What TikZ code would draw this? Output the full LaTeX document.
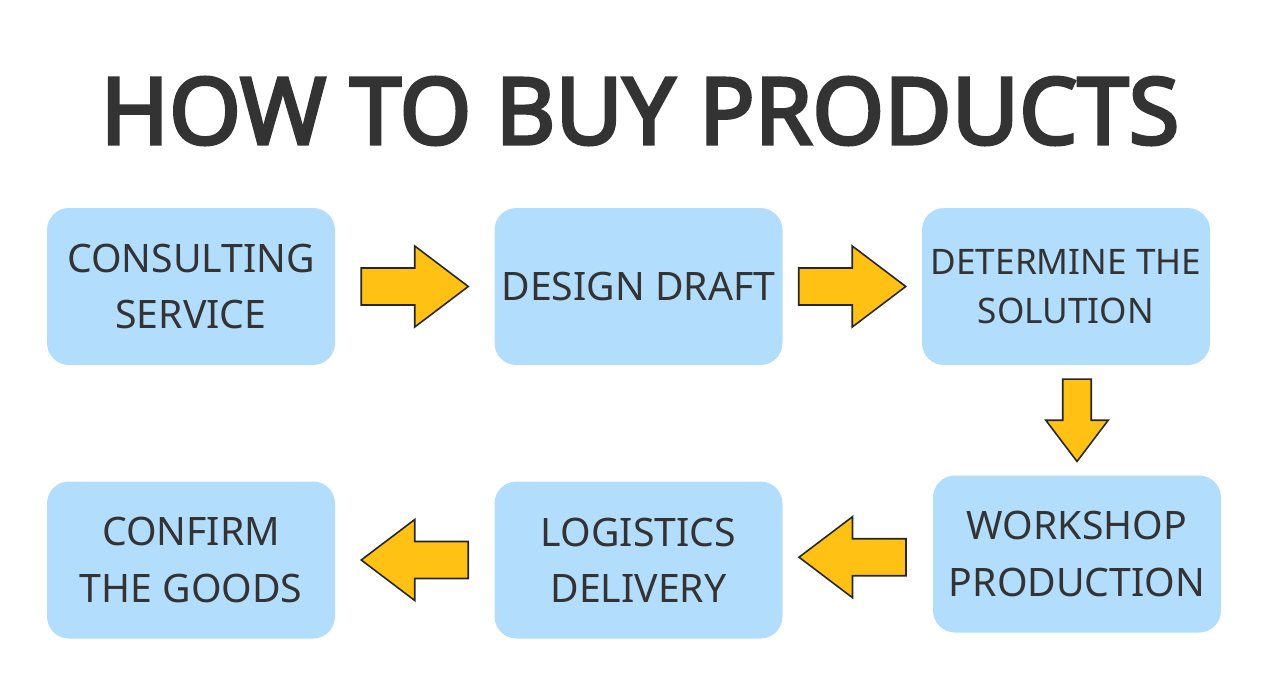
\documentclass[tikz,border=0pt]{standalone}
\usepackage{fontspec}
\setmainfont{Noto Sans}
\newfontfamily\titlefont{Noto Sans}[FakeBold=3.5]
\definecolor{stepfill}{RGB}{179, 221, 253}
\definecolor{arrowfill}{RGB}{255, 194, 20}
\definecolor{inktext}{RGB}{51, 51, 51}
\usetikzlibrary{positioning, calc}

\tikzset{
    stepbox/.style={rounded corners=0.44cm, fill=stepfill, minimum width=5.76cm,
        minimum height=3.14cm, align=center, text=inktext,
        font=\fontsize{22.3}{31.9}\selectfont},
    bigarrow/.style={fill=arrowfill, draw=black!85, line width=0.9pt, line join=miter}
}

\begin{document}
\begin{tikzpicture}
        \useasboundingbox (0,0) rectangle (25.4,-13.74);

        % Title
        \node[font=\fontsize{52.5}{58}\titlefont, text=inktext] (title) at (12.8,-2.22) {HOW TO BUY PRODUCTS};

        % Steps, top row left to right
        \node[stepbox] (consult) at (3.82,-5.73) {CONSULTING\\SERVICE};
        \node[stepbox] (design) at (12.77,-5.73) {DESIGN DRAFT};
        \node[stepbox, font=\fontsize{20}{27.8}\selectfont] (solution) at (21.32,-5.73) {DETERMINE THE\\SOLUTION};

        % Steps, bottom row right to left
        \node[stepbox] (workshop) at (21.54,-11.08) {WORKSHOP\\PRODUCTION};
        \node[stepbox] (delivery) at (12.77,-11.2) {LOGISTICS\\DELIVERY};
        \node[stepbox] (confirm) at (3.82,-11.2) {CONFIRM\\THE GOODS};

        % Block arrows between the steps
        \foreach \from/\to/\t/\ang/\s in {consult.east/design.west/0.5/0/1, design.east/solution.west/0.5/0/1,
                solution.south -| workshop.north/workshop.north/0.5/-90/0.77,
                workshop.west/delivery.east/0.535/180/1, delivery.west/confirm.east/0.5/180/1} {
            \draw[bigarrow, shift={($(\from)!\t!(\to)$)}, rotate=\ang, scale=\s]
                (-1.07,0.37) -- (0,0.37) -- (0,0.81) -- (1.07,0) -- (0,-0.81) -- (0,-0.37) -- (-1.07,-0.37) -- cycle;
        }
    \end{tikzpicture}
\end{document}
